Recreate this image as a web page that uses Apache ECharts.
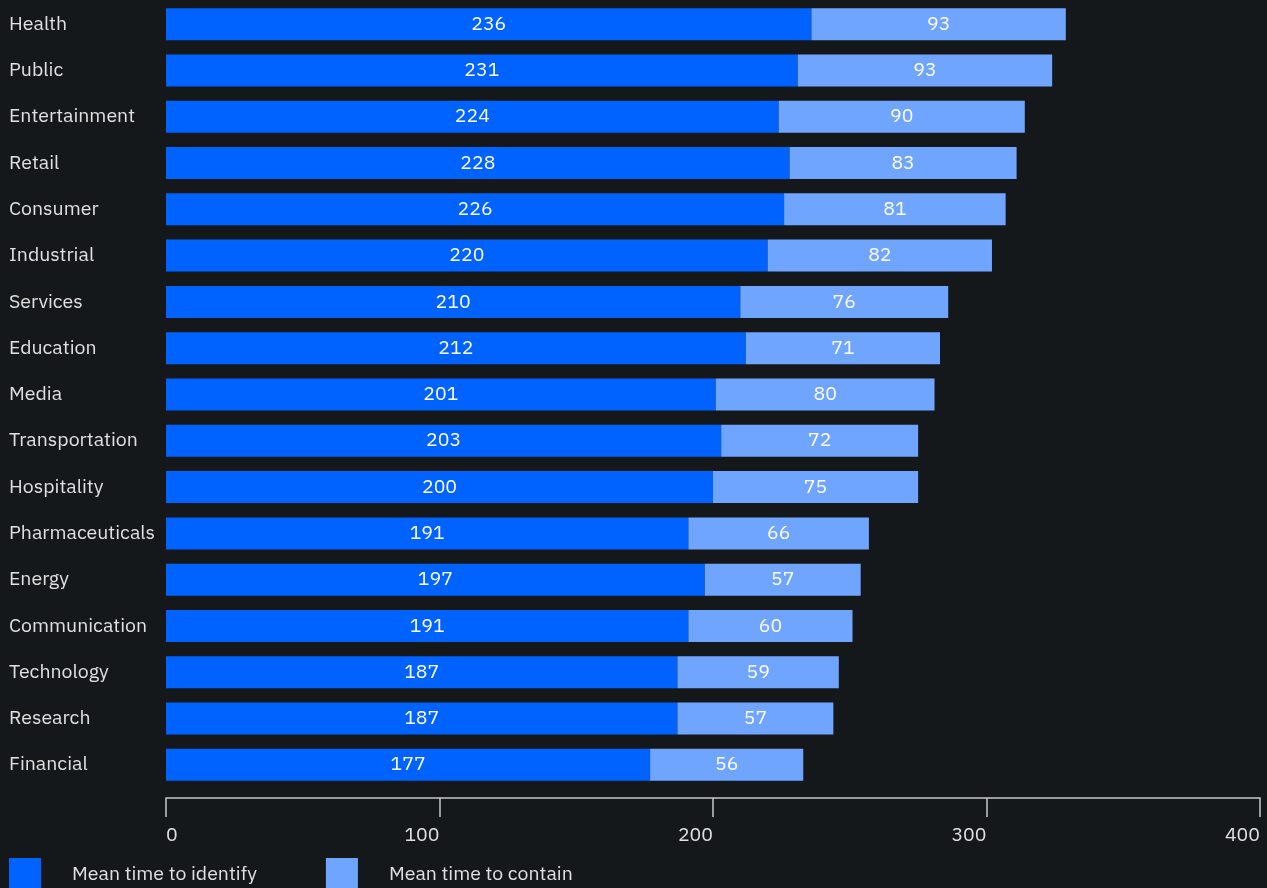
<!DOCTYPE html>
<html>
<head>
<meta charset="utf-8">
<script src="https://cdn.jsdelivr.net/npm/echarts@6/dist/echarts.min.js"></script>
<style>
html,body{margin:0;padding:0;background:#15181b;}
#chart{width:1267px;height:888px;}
</style>
</head>
<body>
<div id="chart"></div>
<script>
const categories = ["Health","Public","Entertainment","Retail","Consumer","Industrial","Services","Education","Media","Transportation","Hospitality","Pharmaceuticals","Energy","Communication","Technology","Research","Financial"];
const identify = [236,231,224,228,226,220,210,212,201,203,200,191,197,191,187,187,177];
const contain = [93,93,90,83,81,82,76,71,80,72,75,66,57,60,59,57,56];
const seriesNames = ["Mean time to identify","Mean time to contain"];
const xTicks = [0,100,200,300,400];

const font = "'IBM Plex Sans','Noto Sans',sans-serif";
const fs = 19.5;
const chart = echarts.init(document.getElementById('chart'), null, {renderer:'canvas'});
const labelStyle = {show:true, position:'inside', color:'#ffffff', fontSize:fs, fontFamily:font, padding:[3,0,0,0]};
chart.setOption({
  backgroundColor:'#15181b',
  animation:false,
  grid:{left:166, right:7, top:1, bottom:100, containLabel:false},
  legend:{
    left:9, top:858, padding:0, itemWidth:32, itemHeight:32, itemGap:69, icon:'rect',
    textStyle:{color:'#e0e0e0', fontSize:fs, fontFamily:font, padding:[0,0,0,26]},
    data:seriesNames
  },
  xAxis:{
    type:'value', min:xTicks[0], max:xTicks[xTicks.length-1], interval:100,
    offset:10,
    axisLine:{show:true, lineStyle:{color:'#c6c6c6', width:1.5}},
    axisTick:{show:true, length:19, lineStyle:{color:'#c6c6c6', width:1.5}},
    splitLine:{show:false},
    axisLabel:{color:'#e0e0e0', fontSize:fs, fontFamily:font, margin:27, align:'right', alignMinLabel:'left', alignMaxLabel:'right'}
  },
  yAxis:{
    type:'category', data:categories, inverse:true,
    axisLine:{show:false}, axisTick:{show:false},
    axisLabel:{color:'#e0e0e0', fontSize:fs, fontFamily:font, align:'left', margin:157, padding:[4,0,0,0]}
  },
  series:[
    {name:seriesNames[0], type:'bar', stack:'t', barWidth:32, data:identify, itemStyle:{color:'#0062ff'}, label:labelStyle},
    {name:seriesNames[1], type:'bar', stack:'t', barWidth:32, data:contain, itemStyle:{color:'#70a5ff'}, label:labelStyle}
  ]
});
</script>
</body>
</html>
